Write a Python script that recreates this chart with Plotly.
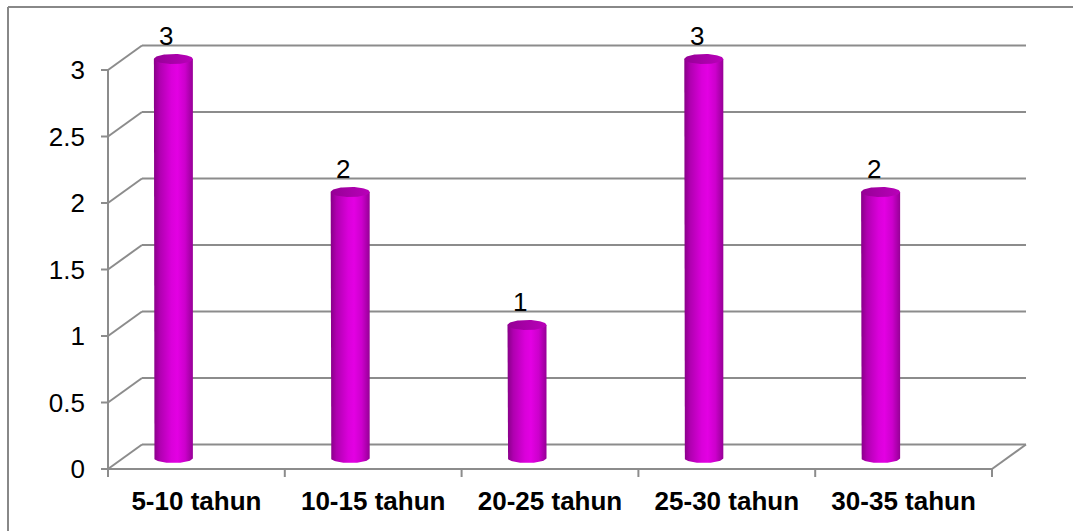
import numpy as np
import plotly.graph_objects as go

# ---- data ----
categories = ["5-10 tahun", "10-15 tahun", "20-25 tahun", "25-30 tahun", "30-35 tahun"]
values = [3, 2, 1, 3, 2]
y_ticks = [0, 0.5, 1, 1.5, 2, 2.5, 3]

# ---- geometry (pixel scale of the reference) ----
W, H = 1073, 531
PX_X = 176.8          # pixels per category
PX_Y = 133.0          # pixels per unit
AXIS_X, ZERO_Y = 108, 469
L, R, T, B = 96, 1032, 36, 480

xr = [-0.5 - (AXIS_X - L) / PX_X, -0.5 + (R - AXIS_X) / PX_X]
yr = [-(B - ZERO_Y) / PX_Y, (ZERO_Y - T) / PX_Y]

DX = 34 / PX_X        # depth offset of back wall
DY = 24.5 / PX_Y
BAR_DX = -23 / PX_X   # bar position relative to category centre
BAR_DY = 11 / PX_Y
HW = 19.5 / PX_X      # bar half-width
EH = 5 / PX_Y         # ellipse semi-height

grid_col = "#8C8C8C"
n = len(categories)
x0, x1 = -0.5, n - 0.5

def px2paper_x(px):
    return (px - L) / (R - L)

def px2paper_y(py):
    return (B - py) / (B - T)

shapes = []
def line(xa, ya, xb, yb, ref="data", w=2, col=grid_col):
    d = dict(type="line", x0=xa, y0=ya, x1=xb, y1=yb, line=dict(color=col, width=w), layer="below")
    if ref == "paper":
        d.update(xref="paper", yref="paper")
    else:
        d.update(xref="x", yref="y")
    shapes.append(d)

# back wall gridlines + diagonals
for v in y_ticks:
    line(x0 + DX, v + DY, x1 + DX, v + DY)
    line(x0, v, x0 + DX, v + DY)
    line(x0 - 7 / PX_X, v, x0, v)          # y tick marks
# front axis and floor
line(x0, 0, x0, max(y_ticks))
line(x0, 0, x1, 0)
line(x1, 0, x1 + DX, DY)
for k in range(n + 1):
    line(x0 + k, 0, x0 + k, -8 / PX_Y)

# outer border (left + top)
bl, bt = px2paper_x(8), px2paper_y(7)
line(bl, px2paper_y(H + 2), bl, bt, ref="paper", col="#888888")
line(bl, bt, px2paper_x(W + 2), bt, ref="paper", col="#888888")

fig = go.Figure()

body_scale = [[0, "#870087"], [0.15, "#B000B0"], [0.45, "#DA00DA"], [0.6, "#E300E3"],
              [0.8, "#CC00CC"], [1, "#960096"]]
top_scale = [[0, "#950095"], [0.5, "#A800A8"], [1, "#B900B9"]]

t = np.linspace(0, np.pi, 40)
tt = np.linspace(0, 2 * np.pi, 80)
annotations = []
for i, v in enumerate(values):
    cx = i + BAR_DX
    base = BAR_DY
    top = v + BAR_DY
    bx = [cx - HW, cx - HW] + list(cx - HW * np.cos(t)) + [cx + HW, cx - HW]
    by = [top, base] + list(base - EH * np.sin(t)) + [top, top]
    fig.add_trace(go.Scatter(x=bx, y=by, mode="lines", fill="toself", line=dict(width=0),
                             fillgradient=dict(type="horizontal", colorscale=body_scale),
                             hoverinfo="skip", showlegend=False))
    ex = cx + HW * np.cos(tt)
    ey = top + EH * np.sin(tt)
    fig.add_trace(go.Scatter(x=ex, y=ey, mode="lines", fill="toself", line=dict(width=0),
                             fillgradient=dict(type="horizontal", colorscale=top_scale),
                             hoverinfo="skip", showlegend=False))
    annotations.append(dict(x=cx - 7 / PX_X, y=top, xref="x", yref="y", text=str(v),
                            showarrow=False, yshift=23,
                            font=dict(family="Liberation Sans, Arial", size=26, color="#000000")))

fig.update_layout(
    width=W, height=H,
    margin=dict(l=L, r=W - R, t=T, b=H - B, pad=0),
    paper_bgcolor="white", plot_bgcolor="white",
    shapes=shapes, annotations=annotations,
    showlegend=False,
    xaxis=dict(range=xr, showgrid=False, zeroline=False, showline=False,
               tickmode="array", tickvals=list(range(n)), ticktext=categories, ticks="",
               ticklabelstandoff=3,
               tickfont=dict(family="Liberation Sans, Arial", size=26, color="#000000", weight="bold"),
               fixedrange=True),
    yaxis=dict(range=yr, showgrid=False, zeroline=False, showline=False,
               tickmode="array", tickvals=y_ticks, ticktext=[f"{v:g}" for v in y_ticks], ticks="",
               ticklabelstandoff=10,
               tickfont=dict(family="Liberation Sans, Arial", size=26, color="#000000"),
               fixedrange=True),
)

fig.write_html("out.html")
